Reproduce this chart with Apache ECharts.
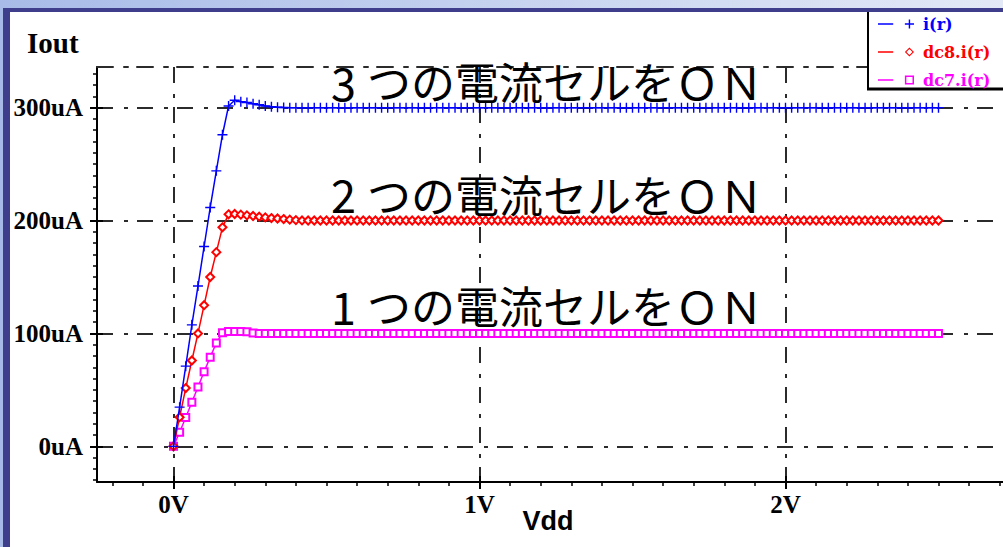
<!DOCTYPE html>
<html>
<head>
<meta charset="utf-8">
<script src="https://cdn.jsdelivr.net/npm/echarts@6/dist/echarts.min.js"></script>
<style>
  html, body { margin: 0; padding: 0; width: 1003px; height: 547px; overflow: hidden; }
  #frame { position: absolute; left: 0; top: 0; width: 1003px; height: 547px;
           background: linear-gradient(to right, #a8bbe8, #e3e9f6); }
  #rim   { position: absolute; left: 3px; top: 8px; right: 0; bottom: 0; background: #3e3e8d; }
  #paper { position: absolute; left: 10px; top: 12px; right: 0; bottom: 0; background: #ffffff; }
  #chart { position: absolute; left: 0; top: 0; width: 1003px; height: 547px; }
</style>
</head>
<body>
<div id="frame"></div>
<div id="rim"></div>
<div id="paper"></div>
<div id="chart"></div>
<script>
// DC sweep of Vdd (V)
const vdd = [
  0.00, 0.02, 0.04, 0.06, 0.08, 0.10, 0.12, 0.14, 0.16, 0.18,
  0.20, 0.22, 0.24, 0.26, 0.28, 0.30, 0.32, 0.34, 0.36, 0.38,
  0.40, 0.42, 0.44, 0.46, 0.48, 0.50, 0.52, 0.54, 0.56, 0.58,
  0.60, 0.62, 0.64, 0.66, 0.68, 0.70, 0.72, 0.74, 0.76, 0.78,
  0.80, 0.82, 0.84, 0.86, 0.88, 0.90, 0.92, 0.94, 0.96, 0.98,
  1.00, 1.02, 1.04, 1.06, 1.08, 1.10, 1.12, 1.14, 1.16, 1.18,
  1.20, 1.22, 1.24, 1.26, 1.28, 1.30, 1.32, 1.34, 1.36, 1.38,
  1.40, 1.42, 1.44, 1.46, 1.48, 1.50, 1.52, 1.54, 1.56, 1.58,
  1.60, 1.62, 1.64, 1.66, 1.68, 1.70, 1.72, 1.74, 1.76, 1.78,
  1.80, 1.82, 1.84, 1.86, 1.88, 1.90, 1.92, 1.94, 1.96, 1.98,
  2.00, 2.02, 2.04, 2.06, 2.08, 2.10, 2.12, 2.14, 2.16, 2.18,
  2.20, 2.22, 2.24, 2.26, 2.28, 2.30, 2.32, 2.34, 2.36, 2.38,
  2.40, 2.42, 2.44, 2.46, 2.48, 2.50
];

// Output current (uA): three cells on
const iR = [
  0, 34.7, 71, 107.6, 142, 177, 211.6, 244, 276, 301.5,
  306.5, 305.3, 304.5, 303.5, 302.5, 301.5, 300.8, 300.3, 300.1, 300,
  300, 300, 300, 300, 300, 300, 300, 300, 300, 300,
  300, 300, 300, 300, 300, 300, 300, 300, 300, 300,
  300, 300, 300, 300, 300, 300, 300, 300, 300, 300,
  300, 300, 300, 300, 300, 300, 300, 300, 300, 300,
  300, 300, 300, 300, 300, 300, 300, 300, 300, 300,
  300, 300, 300, 300, 300, 300, 300, 300, 300, 300,
  300, 300, 300, 300, 300, 300, 300, 300, 300, 300,
  300, 300, 300, 300, 300, 300, 300, 300, 300, 300,
  300, 300, 300, 300, 300, 300, 300, 300, 300, 300,
  300, 300, 300, 300, 300, 300, 300, 300, 300, 300,
  300, 300, 300, 300, 300, 300
];

// Output current (uA): two cells on
const dc8IR = [
  0, 25.8, 51.6, 76, 100, 125, 150, 172, 194, 205.5,
  205.8, 205.2, 204.6, 204, 203.4, 202.8, 202.2, 201.8, 201.3, 200.8,
  200.4, 200.1, 200, 200, 200, 200, 200, 200, 200, 200,
  200, 200, 200, 200, 200, 200, 200, 200, 200, 200,
  200, 200, 200, 200, 200, 200, 200, 200, 200, 200,
  200, 200, 200, 200, 200, 200, 200, 200, 200, 200,
  200, 200, 200, 200, 200, 200, 200, 200, 200, 200,
  200, 200, 200, 200, 200, 200, 200, 200, 200, 200,
  200, 200, 200, 200, 200, 200, 200, 200, 200, 200,
  200, 200, 200, 200, 200, 200, 200, 200, 200, 200,
  200, 200, 200, 200, 200, 200, 200, 200, 200, 200,
  200, 200, 200, 200, 200, 200, 200, 200, 200, 200,
  200, 200, 200, 200, 200, 200
];

// Output current (uA): one cell on
const dc7IR = [
  0, 12.5, 25.5, 39, 52.5, 66, 79, 91.5, 100.5, 101.6,
  101.7, 101.6, 101.5, 100.4, 100, 100, 100, 100, 100, 100,
  100, 100, 100, 100, 100, 100, 100, 100, 100, 100,
  100, 100, 100, 100, 100, 100, 100, 100, 100, 100,
  100, 100, 100, 100, 100, 100, 100, 100, 100, 100,
  100, 100, 100, 100, 100, 100, 100, 100, 100, 100,
  100, 100, 100, 100, 100, 100, 100, 100, 100, 100,
  100, 100, 100, 100, 100, 100, 100, 100, 100, 100,
  100, 100, 100, 100, 100, 100, 100, 100, 100, 100,
  100, 100, 100, 100, 100, 100, 100, 100, 100, 100,
  100, 100, 100, 100, 100, 100, 100, 100, 100, 100,
  100, 100, 100, 100, 100, 100, 100, 100, 100, 100,
  100, 100, 100, 100, 100, 100
];

const seriesNames = ['i(r)', 'dc8.i(r)', 'dc7.i(r)'];

// Axis ticks
const xMajorTicks = [0, 1, 2];
const xMinorTicks = [
  -0.2, -0.1, 0, 0.1, 0.2, 0.3, 0.4, 0.5, 0.6, 0.7, 0.8, 0.9,
  1, 1.1, 1.2, 1.3, 1.4, 1.5, 1.6, 1.7, 1.8, 1.9,
  2, 2.1, 2.2, 2.3, 2.4, 2.5, 2.6, 2.7
];
const yMajorTicks = [0, 100, 200, 300];
const yMinorTicks = [
  -30, -20, -10, 0, 10, 20, 30, 40, 50, 60, 70, 80, 90,
  100, 110, 120, 130, 140, 150, 160, 170, 180, 190,
  200, 210, 220, 230, 240, 250, 260, 270, 280, 290,
  300, 310, 320, 330
];

const annotations = ['3つの電流セルをＯＮ', '2つの電流セルをＯＮ', '1つの電流セルをＯＮ'];
const xAxisTitle = 'Vdd';
const yAxisTitle = 'Iout';

// ---- styling ----
const colors = ['#0000ff', '#ff0000', '#ff00ff'];
const serif = '"Liberation Serif", "Times New Roman", serif';
const jpFont = '"Noto Sans CJK JP", sans-serif';
const gridDash = [16, 11, 4, 9];
const gridLine = { color: '#2b2b2b', width: 2, type: gridDash };
const xRange = { min: -0.25, max: 2.75 };
const yRange = { min: -31.6, max: 336 };

const plusSymbol = 'path://M4.3,0h1.4v4.3h4.3v1.4h-4.3v4.3h-1.4v-4.3h-4.3v-1.4h4.3z';
const legendIcons = [
  'path://M0,4.3h15v1.4h-15z M30.3,0.5h1.4v9h-1.4z M26.5,4.3h9v1.4h-9z',
  'path://M0,4.3h15v1.4h-15z M31,0.5L35.5,5L31,9.5L26.5,5z M31,2L28,5L31,8L34,5z',
  'path://M0,4.3h15v1.4h-15z M26.5,0.5h9v9h-9z M28,2v6h6v-6z'
];

function xAxisBase(extra) {
  return Object.assign({
    type: 'value', gridIndex: 0, position: 'bottom', min: xRange.min, max: xRange.max,
    axisLine: { show: false, onZero: false },
    axisTick: { show: false },
    axisLabel: { show: false },
    splitLine: { show: false }
  }, extra);
}
function yAxisBase(extra) {
  return Object.assign({
    type: 'value', gridIndex: 0, position: 'left', min: yRange.min, max: yRange.max,
    axisLine: { show: false, onZero: false },
    axisTick: { show: false },
    axisLabel: { show: false },
    splitLine: { show: false }
  }, extra);
}

const chart = echarts.init(document.getElementById('chart'), null, { renderer: 'svg' });

const option = {
  animation: false,
  backgroundColor: 'transparent',
  grid: { left: 97, right: -12, top: 67, bottom: 65, containLabel: false, outerBoundsMode: 'none' },
  xAxis: [
    xAxisBase({
      axisLine: { show: true, onZero: false, lineStyle: { color: '#000', width: 2 } },
      axisTick: { show: true, inside: false, length: 4, customValues: xMinorTicks,
                  lineStyle: { color: '#000', width: 1.5 } },
      axisLabel: { show: true, customValues: xMajorTicks, formatter: v => v + 'V', margin: 10,
                   color: '#000', fontFamily: serif, fontWeight: 'bold', fontSize: 25 }
    }),
    xAxisBase({
      axisTick: { show: true, inside: false, length: 7, customValues: xMajorTicks,
                  lineStyle: { color: '#000', width: 2 } }
    }),
    xAxisBase({
      axisTick: { show: true, inside: true, length: 6, customValues: xMajorTicks,
                  lineStyle: { color: '#000', width: 2 } },
      splitLine: { show: true, lineStyle: gridLine }
    }),
    xAxisBase({
      position: 'top',
      axisLine: { show: true, onZero: false, lineStyle: gridLine }
    })
  ],
  yAxis: [
    yAxisBase({
      axisLine: { show: true, onZero: false, lineStyle: { color: '#000', width: 2 } },
      axisTick: { show: true, inside: false, length: 4, customValues: yMinorTicks,
                  lineStyle: { color: '#000', width: 1.5 } },
      axisLabel: { show: true, customValues: yMajorTicks, formatter: v => v + 'uA', margin: 14,
                   color: '#000', fontFamily: serif, fontWeight: 'bold', fontSize: 25 }
    }),
    yAxisBase({
      axisTick: { show: true, inside: false, length: 7, customValues: yMajorTicks,
                  lineStyle: { color: '#000', width: 2 } }
    }),
    yAxisBase({
      axisTick: { show: true, inside: true, length: 6, customValues: yMajorTicks,
                  lineStyle: { color: '#000', width: 2 } },
      splitLine: { show: true, lineStyle: gridLine }
    })
  ],
  legend: {
    orient: 'vertical', left: 873, top: 11, z: 200,
    itemWidth: 36, itemHeight: 10, itemGap: 12,
    selectedMode: false,
    itemStyle: { borderWidth: 0 },
    textStyle: { fontFamily: '"DejaVu Serif", serif', fontWeight: 'bold', fontSize: 16, padding: [0, 0, 0, 4] },
    data: seriesNames.map((n, i) => ({ name: n, icon: legendIcons[i], textStyle: { color: colors[i] } }))
  },
  graphic: [
    { type: 'rect', z: 150, shape: { x: 868, y: 12, width: 140, height: 77 }, style: { fill: '#fff' } },
    { type: 'line', z: 151, shape: { x1: 868, y1: 12, x2: 868, y2: 90 }, style: { stroke: '#000', lineWidth: 2 } },
    { type: 'line', z: 151, shape: { x1: 867, y1: 89, x2: 1003, y2: 89 }, style: { stroke: '#000', lineWidth: 3 } },
    { type: 'text', z: 60, x: 27, y: 43,
      style: { text: yAxisTitle, font: 'bold 29px ' + serif, fill: '#000',
               align: 'left', textAlign: 'left', verticalAlign: 'middle', textVerticalAlign: 'middle' } },
    { type: 'text', z: 60, x: 548, y: 521,
      style: { text: xAxisTitle, font: 'bold 27px "Liberation Sans", Arial, sans-serif', fill: '#000',
               align: 'center', textAlign: 'center', verticalAlign: 'middle', textVerticalAlign: 'middle' } }
  ].concat(annotations.map((t, i) => ({
    type: 'text', z: 60, x: 331, y: [81, 193.5, 305][i],
    style: {
      text: '{d|' + t.slice(0, 1) + '}{k|' + t.slice(1) + '}',
      font: '44px ' + jpFont, fill: '#000',
      align: 'left', textAlign: 'left', verticalAlign: 'middle', textVerticalAlign: 'middle',
      rich: {
        d: { fontFamily: jpFont, fontSize: 45, width: 36, fill: '#000', color: '#000' },
        k: { fontFamily: jpFont, fontSize: 44, fill: '#000', color: '#000' }
      }
    }
  }))),
  series: [
    {
      name: seriesNames[0], type: 'line', xAxisIndex: 0, yAxisIndex: 0, z: 5,
      data: vdd.map((v, i) => [v, iR[i]]),
      symbol: plusSymbol, symbolSize: 10, symbolKeepAspect: true, showAllSymbol: true,
      lineStyle: { color: colors[0], width: 1.5 },
      itemStyle: { color: colors[0], borderWidth: 0 }
    },
    {
      name: seriesNames[1], type: 'line', xAxisIndex: 0, yAxisIndex: 0, z: 4,
      data: vdd.map((v, i) => [v, dc8IR[i]]),
      symbol: 'emptyDiamond', symbolSize: 8, showAllSymbol: true,
      lineStyle: { color: colors[1], width: 1.5 },
      itemStyle: { color: colors[1] }
    },
    {
      name: seriesNames[2], type: 'line', xAxisIndex: 0, yAxisIndex: 0, z: 3,
      data: vdd.map((v, i) => [v, dc7IR[i]]),
      symbol: 'emptyRect', symbolSize: 7, showAllSymbol: true,
      lineStyle: { color: colors[2], width: 1.5 },
      itemStyle: { color: colors[2] }
    }
  ]
};

chart.setOption(option);
</script>
</body>
</html>
